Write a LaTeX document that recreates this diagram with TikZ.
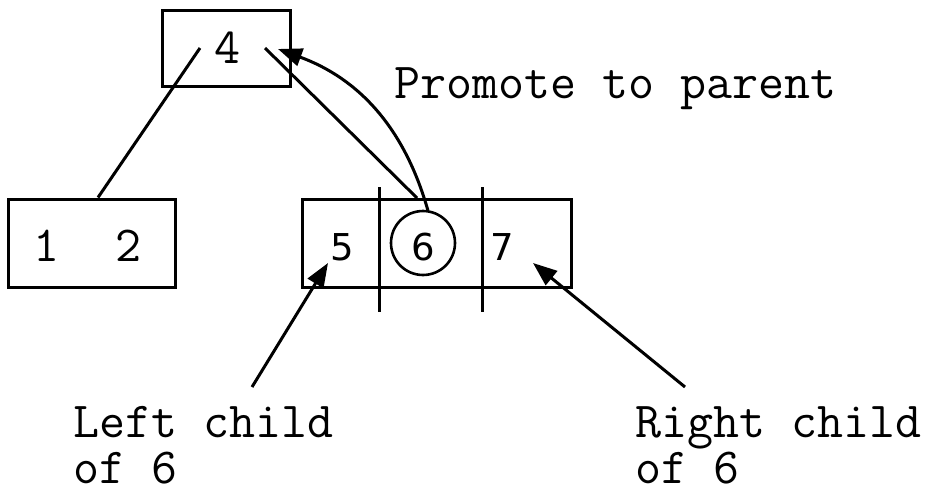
\documentclass[tikz,border=0pt]{standalone}
\usepackage{fontspec}
\newfontfamily\digitfont{DejaVu Sans}
\usetikzlibrary{arrows.meta}
\begin{document}
\begin{tikzpicture}[x=1pt,y=-1pt,
  box/.style={draw,line width=3pt,inner sep=0pt},
  wire/.style={line width=3pt},
  pointer/.style={line width=3pt,-{Triangle[length=24pt,width=18pt]}},
  mono/.style={font=\ttfamily\fontsize{50.5}{50.5}\selectfont,inner sep=0pt},
  digit/.style={font=\digitfont\fontsize{37}{37}\selectfont,inner sep=0pt},
  label/.style={mono,anchor=base west}]
\useasboundingbox (0,0) rectangle (933,496);

% parent node
\node[box,minimum width=128pt,minimum height=76pt] (parent) at (226,48) {};
\node[mono] (k4) at (227,48) {4};

% left leaf
\node[box,minimum width=167pt,minimum height=88pt] (leaf) at (91.5,243) {};
\node[mono] (k1) at (47,246) {1};
\node[mono] (k2) at (129,246) {2};

% overfull node with three keys
\node[box,minimum width=269pt,minimum height=88pt] (full) at (436.5,243) {};
\coordinate (d1top) at (379,187);
\coordinate (d1bot) at (379,312);
\coordinate (d2top) at (482,187);
\coordinate (d2bot) at (482,312);
\draw[wire] (d1top) -- (d1bot);
\draw[wire] (d2top) -- (d2bot);
\node[digit] (k5) at (342,247) {5};
\node[digit] (k6) at (423,247) {6};
\node[digit] (k7) at (502,247) {7};
\node[draw,circle,line width=2.6pt,minimum size=64pt,inner sep=0pt] (ring) at (423,243) {};

% child pointers of the parent
\coordinate (pl) at (200,48);
\coordinate (pr) at (265,48);
\coordinate (fulltop) at (417,198);
\draw[wire] (pl) -- (leaf.north -| 98,0);
\draw[wire] (pr) -- (fulltop);

% promotion arrow
\coordinate (tip) at (278,49);
\draw[pointer] (ring.north) ++(5,1) coordinate (rs) to[bend right=27] (tip);

% labels
\node[label] (promote) at (394,98) {Promote to parent};
\node[label] (left1) at (73,437) {Left child};
\node[label] (left2) at (73,483) {of 6};
\node[label] (right1) at (635,437) {Right child};
\node[label] (right2) at (635,483) {of 6};

\coordinate (la) at (252,387);
\coordinate (lt) at (328,263);
\coordinate (ra) at (685,387);
\coordinate (rt) at (533,263);
\draw[pointer] (la) -- (lt);
\draw[pointer] (ra) -- (rt);
\end{tikzpicture}
\end{document}
